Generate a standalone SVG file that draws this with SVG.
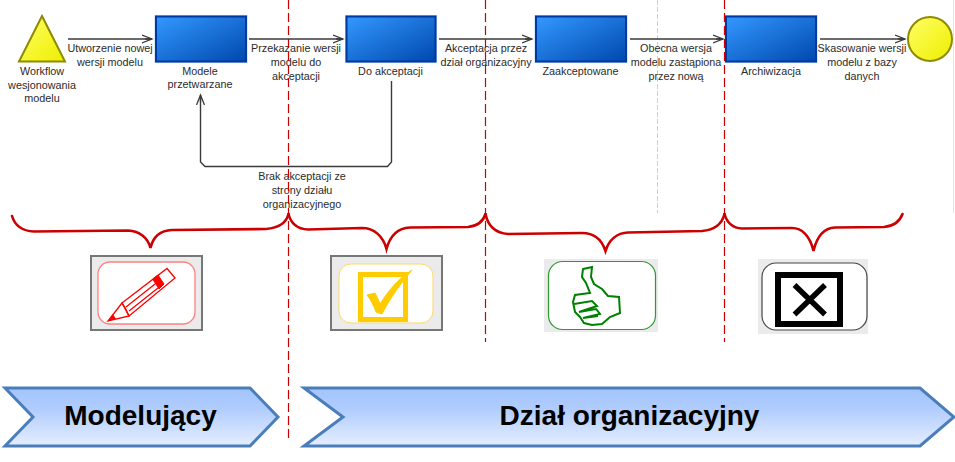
<svg xmlns="http://www.w3.org/2000/svg" width="955" height="462" viewBox="0 0 955 462">
<style>
text{font-family:"Liberation Sans",Arial,sans-serif;font-size:10.8px;fill:#2b2b2b;text-anchor:middle}
.task{fill:url(#blue);stroke:#0039a0;stroke-width:2}
.halo{fill:none;stroke:#b9d3f2;stroke-width:1}
.conn{fill:none;stroke:#3a3a3a;stroke-width:1.4;marker-end:url(#arr)}
.brace{fill:none;stroke:#cc0000;stroke-width:2.6;stroke-linecap:round}
.dash{stroke:#cc0000;stroke-width:1.2;stroke-dasharray:9 4;fill:none}
.panel{fill:#ebebeb}
.chev{fill:url(#sky);stroke:#4a7ebb;stroke-width:3}
.big{font-size:28px;font-weight:bold;fill:#000}
</style>
<defs>
<linearGradient id="blue" x1="0" y1="0" x2="1" y2="1"><stop offset="0" stop-color="#3399ff"/><stop offset="1" stop-color="#0048ad"/></linearGradient>
<linearGradient id="yel" x1="0" y1="0" x2="1" y2="1"><stop offset="0" stop-color="#ffff66"/><stop offset="1" stop-color="#eeee00"/></linearGradient>
<linearGradient id="sky" x1="0" y1="0" x2="0" y2="1"><stop offset="0" stop-color="#a3c4fd"/><stop offset="0.35" stop-color="#b0ccfd"/><stop offset="1" stop-color="#e5eeff"/></linearGradient>
<marker id="arr" markerUnits="userSpaceOnUse" markerWidth="12" markerHeight="10" refX="10" refY="5" orient="auto"><path d="M0 1 L10 5 L0 9 M3 5 H10" fill="none" stroke="#3a3a3a" stroke-width="1.3"/></marker>
</defs>
<rect width="955" height="462" fill="#fff"/>
<path d="M953.5 0V213" stroke="#e4e4e4" stroke-width="1"/>
<path d="M657.5 0V213" stroke="#d0d0d0" stroke-width="1" stroke-dasharray="5 2" fill="none"/>

<g id="connectors">
<path class="conn" d="M68 39H152"/>
<path class="conn" d="M249 39H343"/>
<path class="conn" d="M439 39H532"/>
<path class="conn" d="M630 39H723"/>
<path class="conn" d="M820 39H905"/>
<path class="conn" d="M391.500 81V162L387.500 166.500H205L200.500 162V95"/>
<text x="110" y="52">Utworzenie nowej</text><text x="110" y="66">wersji modelu</text>
<text x="296" y="52">Przekazanie wersji</text><text x="296" y="66">modelu do</text><text x="296" y="80">akceptacji</text>
<text x="486" y="52">Akceptacja przez</text><text x="486" y="66">dział organizacyjny</text>
<text x="676" y="52">Obecna wersja</text><text x="676" y="66">modelu zastąpiona</text><text x="676" y="80">przez nową</text>
<text x="862" y="52">Skasowanie wersji</text><text x="862" y="66">modelu z bazy</text><text x="862" y="80">danych</text>
<text x="302" y="180">Brak akceptacji ze</text><text x="302" y="194">strony działu</text><text x="302" y="208">organizacyjnego</text>
</g>

<g id="start"><path d="M42 16L65 61.500H19Z" fill="url(#yel)" stroke="#8f8a00" stroke-width="2"/>
<text x="42" y="75">Workflow</text><text x="42" y="89">wesjonowania</text><text x="42" y="102">modelu</text></g>
<g id="n1"><rect class="halo" x="155" y="15.500" width="92" height="47"/><rect class="task" x="156" y="16.500" width="90" height="45"/><text x="200" y="75">Modele</text><text x="200" y="88">przetwarzane</text></g>
<g id="n2"><rect class="halo" x="345.500" y="15.500" width="91" height="47"/><rect class="task" x="346.500" y="16.500" width="89" height="45"/><text x="390.500" y="75">Do akceptacji</text></g>
<g id="n3"><rect class="halo" x="535" y="15.500" width="92" height="47"/><rect class="task" x="536" y="16.500" width="90" height="45"/><text x="580.500" y="75">Zaakceptowane</text></g>
<g id="n4"><rect class="halo" x="725" y="15.500" width="92" height="47"/><rect class="task" x="726" y="16.500" width="90" height="45"/><text x="771" y="75">Archiwizacja</text></g>
<g id="end"><circle cx="930" cy="39" r="22" fill="url(#yel)" stroke="#8f8a00" stroke-width="2"/></g>

<g id="guides">
<path class="dash" d="M288.500 0V438"/>
<path class="dash" d="M485.500 0V342"/>
<path class="dash" d="M724.500 0V342"/>
</g>

<g id="braces">
<path class="brace" d="M12 216C15 226 22 231 34 231.500L128 230.500C140 231 148 238 150.500 248C153 237 160 230.500 172 230L266 229C278 228 286 224 288.500 214"/>
<path class="brace" d="M288.500 214C291 224 298 229 308 229.500L362 228C374 228 383 236 386.500 249C390 236 398 228 410 227.500L468 227C478 226 483 222 485.500 214"/>
<path class="brace" d="M485.500 214C488 226 495 233 508 234L582 233C594 233 602 240 605.500 251C609 240 617 233 628 232.500L702 231C714 230 722 224 724.500 214"/>
<path class="brace" d="M724.500 214C727 223 733 228 742 228.500L792 228C802 228 810 236 813.500 251C817 236 824 228 835 227.500L884 227C894 226 900 221 902.500 214"/>
</g>

<g id="icon-pencil">
<rect class="panel" x="91" y="256" width="111" height="74" stroke="#777" stroke-width="2"/>
<rect x="98" y="262" width="97" height="62" rx="12" fill="#fff" stroke="#ff8080" stroke-width="1.300"/>
<g fill="none" stroke="#ff0000" stroke-width="1.300">
<path d="M122 303L167 268.500L175 278L129 316Z"/>
<path d="M122 303L108 321L129 316C127 311 125 307 122 303Z"/>
<path d="M126 307L155 284M129 311L158 288"/>
</g>
<path d="M108 321L113 314L116 319Z" fill="#ff0000"/>
<path d="M152.700 279L158 275L164 284L159 289Z" fill="#ff0000" stroke="#ff0000" stroke-width="1"/>
</g>

<g id="icon-check">
<rect class="panel" x="331" y="256" width="111" height="74" stroke="#777" stroke-width="2"/>
<rect x="339" y="264" width="94" height="59" rx="12" fill="#fff" stroke="#ffd966" stroke-width="1"/>
<rect x="360.500" y="274.500" width="45" height="45" fill="none" stroke="#ffcc00" stroke-width="5"/>
<path d="M367 295L375 293C377 297 379 301 380 304C388 291 398 279 412 270C402 282 390 298 382 314L376 312C374 306 371 300 367 295Z" fill="#ffcc00" stroke="#ffcc00" stroke-width="1"/>
</g>

<g id="icon-thumb">
<rect class="panel" x="544" y="259" width="114" height="73"/>
<rect x="548.500" y="261.500" width="107" height="68" rx="14" fill="#fff" stroke="#2e9a2e" stroke-width="1.200"/>
<g fill="none" stroke="#008000" stroke-width="2">
<path d="M583 269L592 267L591 277L594 284L602 289L608 296L619 297L620 313L610 317L602 324L592 325L584 323L580 317L575 312L573 302L575 295L590 293L586 283L582 277Z"/>
<path d="M574 304L592 301L597 306L579 312L596 309L600 314L583 318L598 316"/>
</g>
</g>

<g id="icon-cross">
<rect class="panel" x="758" y="259" width="110" height="75"/>
<rect x="762" y="263" width="105" height="67" rx="14" fill="#fff" stroke="#444" stroke-width="1.200"/>
<rect x="778" y="275" width="62" height="49" fill="none" stroke="#000" stroke-width="6"/>
<path d="M794.500 285L825 314.500M825 285L794.500 314.500" stroke="#000" stroke-width="5.500" fill="none"/>
</g>

<g id="phase-modelujacy">
<path class="chev" d="M5 388H250L278 417L250 446H5L33 417Z"/>
<text class="big" x="140.500" y="425">Modelujący</text>
</g>
<g id="phase-dzial">
<path class="chev" d="M304 388H920L954 417L920 446H304L343 417Z"/>
<text class="big" x="629.500" y="425">Dział organizacyjny</text>
</g>
</svg>
